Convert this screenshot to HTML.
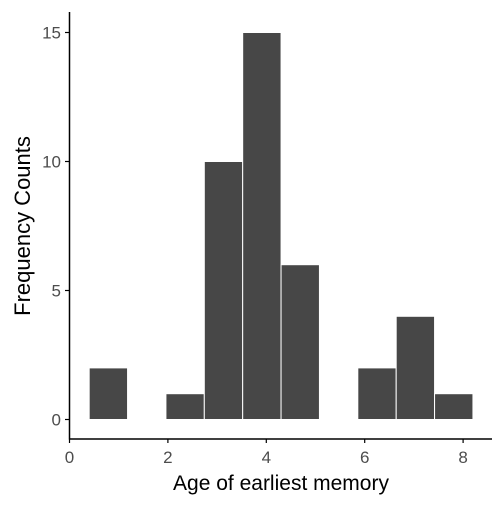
<!DOCTYPE html>
<html><head><style>
body{margin:0;background:#fff;}
svg text{font-family:"Liberation Sans",sans-serif;}
</style></head><body>
<svg id="chart" width="504" height="504">
<g id="bars"></g>
<g id="axes"></g>
</svg>
<script>
const binStart = 0.40;
const binWidth = 0.78;
const counts = [2,0,1,10,15,6,0,2,4,1];
const xTicks = [0,2,4,6,8];
const yTicks = [0,5,10,15];
const ns="http://www.w3.org/2000/svg";
function xs(v){return 69.5+v*49.2;}
function ys(v){return 419.5-v*25.8;}
const bars=document.getElementById('bars');
counts.forEach((c,i)=>{
  if(c<=0) return;
  const r=document.createElementNS(ns,'rect');
  const x0=xs(binStart+i*binWidth), x1=xs(binStart+(i+1)*binWidth);
  r.setAttribute('x',x0);r.setAttribute('width',x1-x0);
  r.setAttribute('y',ys(c));r.setAttribute('height',ys(0)-ys(c));
  r.setAttribute('fill','#474747');r.setAttribute('stroke','#fff');r.setAttribute('stroke-width','1');
  
  
  bars.appendChild(r);
});
const ax=document.getElementById('axes');
function add(tag,attrs,name,text){
  const e=document.createElementNS(ns,tag);
  for(const k in attrs)e.setAttribute(k,attrs[k]);
  
  
  if(text!==undefined)e.textContent=text;
  ax.appendChild(e);return e;
}
add('line',{x1:69.5,x2:69.5,y1:12,y2:439.5,stroke:'#000','stroke-width':1.5},'y-axis-line');
add('line',{x1:69,x2:492,y1:439,y2:439,stroke:'#000','stroke-width':1.5},'x-axis-line');
xTicks.forEach(t=>{
  add('line',{x1:xs(t),x2:xs(t),y1:439,y2:443,stroke:'#000','stroke-width':1.2},'x-tick');
  add('text',{x:xs(t),y:463,'text-anchor':'middle','font-size':17,fill:'#4d4d4d'},'x-tick-label',t);
});
yTicks.forEach(t=>{
  add('line',{x1:65,x2:69.5,y1:ys(t),y2:ys(t),stroke:'#000','stroke-width':1.2},'y-tick');
  add('text',{x:61,y:ys(t)+6,'text-anchor':'end','font-size':17,fill:'#4d4d4d'},'y-tick-label',t);
});
add('text',{x:281,y:490,'text-anchor':'middle','font-size':21,fill:'#000'},'x-axis-title','Age of earliest memory');
add('text',{x:30,y:226,'text-anchor':'middle','font-size':22,fill:'#000',transform:'rotate(-90 30 226)'},'y-axis-title','Frequency Counts');
</script>
</body></html>
